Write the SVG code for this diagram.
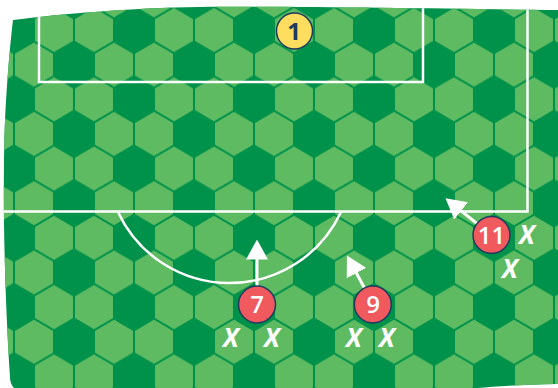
<svg xmlns="http://www.w3.org/2000/svg" width="558" height="388" viewBox="0 0 558 388">
  <style>
    .line { fill: none; stroke: #ffffff; stroke-width: 2.5; }
    .arrow { stroke: #ffffff; stroke-width: 3; fill: none; }
    .red { fill: #F05A5E; stroke: #1E3A5F; stroke-width: 1.5; }
    .yellow { fill: #FFDD5E; stroke: #1E3A5F; stroke-width: 1.5; }
    .num { font-family: "Open Sans", "Liberation Sans", sans-serif; font-weight: 600; font-size: 24px; text-anchor: middle; fill: #ffffff; }
    .num1 { fill: #1E3A5F; font-weight: 700; }
    .x { font-family: "Open Sans", "Liberation Sans", sans-serif; font-weight: 700; font-style: italic; font-size: 26px; text-anchor: middle; fill: #ffffff; }
  </style>
  <defs>
    <polygon id="h" points="0,-21.9 18.97,-10.95 18.97,10.95 0,21.9 -18.97,10.95 -18.97,-10.95" fill="#5EBB62"/>
    <pattern id="hex" patternUnits="userSpaceOnUse" x="14" y="30" width="120" height="69.282">
      <use href="#h" x="40" y="0"/>
      <use href="#h" x="80" y="0"/>
      <use href="#h" x="40" y="69.282"/>
      <use href="#h" x="80" y="69.282"/>
      <use href="#h" x="20" y="34.641"/>
      <use href="#h" x="100" y="34.641"/>
    </pattern>
    <clipPath id="fieldClip">
      <path d="M13,20 C60,14 130,8 200,7 C300,6 450,9 560,10 L560,384 C520,385 490,386 470,389 L20,392 C13,389 10,384 10,377 C5,300 2,200 5,120 C7,80 10,45 13,20 Z"/>
    </clipPath>
    <marker id="ah" viewBox="0 0 20 22" markerUnits="userSpaceOnUse" markerWidth="20" markerHeight="22" refX="0.5" refY="11" orient="auto">
      <path d="M0,0 L20,11 L0,22 Z" fill="#ffffff"/>
    </marker>
  </defs>

  <rect width="558" height="388" fill="#ffffff"/>
  <g id="field" clip-path="url(#fieldClip)">
    <rect x="0" y="0" width="560" height="392" fill="#00914A"/>
    <rect x="0" y="0" width="560" height="392" fill="url(#hex)"/>
    <path class="line" d="M39,0 V82 H423 V0"/>
    <path class="line" d="M0,211.5 H527.5 V0"/>
    <path class="line" d="M118,212 A123,123 0 0,0 341,212"/>
  </g>

  <g id="connectors">
    <line class="arrow" x1="257" y1="287" x2="257" y2="259" marker-end="url(#ah)"/>
    <line class="arrow" x1="365" y1="289" x2="356.2" y2="272.7" marker-end="url(#ah)"/>
    <line class="arrow" x1="477.4" y1="223.8" x2="460.7" y2="210.5" marker-end="url(#ah)"/>
  </g>

  <g id="player1">
    <circle class="yellow" cx="294.5" cy="31" r="18"/>
    <text class="num num1" x="294" y="39.6">1</text>
  </g>
  <g id="player7">
    <circle class="red" cx="257" cy="304.5" r="18.5"/>
    <text class="num" x="257" y="313">7</text>
  </g>
  <g id="player9">
    <circle class="red" cx="372.8" cy="304.5" r="18.5"/>
    <text class="num" x="373" y="313">9</text>
  </g>
  <g id="player11">
    <circle class="red" cx="491.5" cy="235" r="18.5"/>
    <text class="num" x="491.5" y="243.5">11</text>
  </g>

  <g id="opp1"><text class="x" x="527" y="244">X</text></g>
  <g id="opp2"><text class="x" x="510" y="278">X</text></g>
  <g id="opp3"><text class="x" x="231" y="347">X</text></g>
  <g id="opp4"><text class="x" x="272" y="347">X</text></g>
  <g id="opp5"><text class="x" x="354" y="347">X</text></g>
  <g id="opp6"><text class="x" x="387" y="347">X</text></g>
</svg>
